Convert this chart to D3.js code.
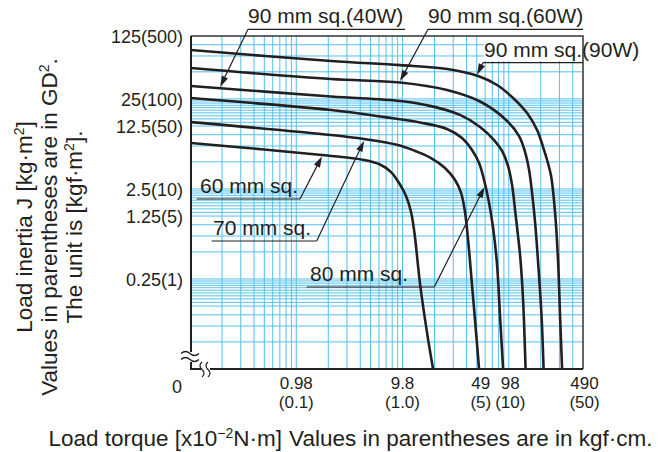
<!DOCTYPE html>
<html><head><meta charset="utf-8">
<script src="https://cdn.jsdelivr.net/npm/d3@7"></script>
<style>
html,body{margin:0;padding:0;background:#fff;}
svg{display:block;font-family:"Liberation Sans",Arial,Helvetica,sans-serif;}
</style></head><body>
<svg id="chart" width="662" height="452"></svg>
<script>
// ---------- data (torque in x10^-2 N·m, inertia J in kg·m²) ----------
const seriesNames = ["90 mm sq.(90W)", "90 mm sq.(60W)", "90 mm sq.(40W)", "80 mm sq.", "70 mm sq.", "60 mm sq."];
const torque90W  = [0.1, 2.08, 9.29, 25.7, 50.4, 76.1, 107.6, 145.8, 181.1, 206.3, 225, 245.4, 267.7, 285.7, 298.3, 311.4];
const inertia90W = [87.4, 65.9, 59.4, 53.8, 44.9, 35.7, 25.6, 17.4, 11.3, 7.30, 5.24, 3.48, 1.35, 0.385, 0.0944, 0.025];
const torque60W  = [0.1, 2.08, 9.29, 25.7, 52.6, 92.5, 122.6, 139.6, 152.3, 162.5, 173.4, 185.1, 199.7, 208.5];
const inertia60W = [55.1, 41.6, 38.0, 31.4, 23.4, 14.6, 9.68, 6.43, 4.06, 2.25, 1.07, 0.385, 0.0944, 0.025];
const torque40W  = [0.1, 2.08, 9.29, 18.2, 34.1, 52.6, 71.3, 84.8, 96.6, 105.3, 112.4, 118.7, 125.3, 133.7, 141.1];
const inertia40W = [34.8, 26.6, 23.7, 20.8, 16.6, 12.2, 8.74, 6.60, 4.49, 2.76, 1.46, 0.830, 0.461, 0.146, 0.025];
const torque80   = [0.1, 2.08, 6.71, 14.3, 25.7, 35.6, 44.2, 51.5, 57.4, 64.0, 69.8, 76.1, 81.2, 86.7];
const inertia80  = [25.6, 18.8, 15.7, 13.7, 11.6, 9.20, 6.76, 4.85, 3.14, 1.74, 0.920, 0.357, 0.0944, 0.025];
const torque70   = [0.1, 2.08, 4.26, 8.89, 12.9, 18.2, 24.6, 30.6, 34.9, 38.0, 40.6, 44.2, 48.3, 51.5];
const inertia70  = [13.8, 9.93, 8.96, 7.69, 6.60, 5.51, 4.27, 3.14, 2.25, 1.38, 0.677, 0.214, 0.0626, 0.025];
const torque60   = [0.1, 1.71, 4.26, 6.02, 7.64, 9.09, 10.6, 11.8, 12.7, 14.3, 16.7, 19.0];
const inertia60  = [8.10, 5.95, 5.24, 4.67, 3.85, 2.91, 2.08, 1.38, 0.810, 0.225, 0.0626, 0.025];

const xTickValues    = [0.98, 9.8, 49, 98, 490];
const xTickLabels    = ["0.98", "9.8", "49", "98", "490"];
const xTickSubLabels = ["(0.1)", "(1.0)", "(5)", "(10)", "(50)"];
const yTickValues    = [125, 25, 12.5, 2.5, 1.25, 0.25];
const yTickLabels    = ["125(500)", "25(100)", "12.5(50)", "2.5(10)", "1.25(5)", "0.25(1)"];

const xGridDecades = [0.098, 0.98, 9.8, 98];
const yGridDecades = [0.025, 0.25, 2.5, 25];
const yGridMultiples = [2, 3, 4, 5, 5.5, 6, 6.5, 7, 7.5, 8, 8.5, 9, 9.5, 10];

const labelTexts   = ["90 mm sq.(40W)", "90 mm sq.(60W)", "90 mm sq.(90W)", "60 mm sq.", "70 mm sq.", "80 mm sq."];
const arrowTorque  = [0.188, 9.29, 49.3, 1.71, 4.26, 58];
const arrowInertia = [34, 39.5, 46.5, 5.75, 8.6, 2.63];

// ---------- layout ----------
const ink = "#231f20", gridColor = "#55c0ea";
const plot = {left: 191, right: 583, top: 36, bottom: 369};
const svg = d3.select("#chart");
const x = d3.scaleLog().domain([0.1, 490]).range([plot.left, plot.right]);
const y = d3.scaleLog().domain([0.025, 125]).range([plot.bottom, plot.top]);

// grid
const xGrid = [];
xGridDecades.forEach(d => { for (let k = 2; k <= 10; k++) { const v = d * k; if (v > 0.1 && v < 489) xGrid.push(v); } });
const yGrid = [];
yGridDecades.forEach(d => yGridMultiples.forEach(m => { const v = d * m; if (v > 0.0251 && v < 124.9) yGrid.push(v); }));

const gGrid = svg.append("g").attr("stroke", gridColor).attr("stroke-width", 1);
gGrid.selectAll("line.v").data(xGrid).join("line").attr("class", "v")
  .attr("x1", d => x(d)).attr("x2", d => x(d)).attr("y1", plot.top).attr("y2", plot.bottom);
gGrid.selectAll("line.h").data(yGrid).join("line").attr("class", "h")
  .attr("x1", plot.left).attr("x2", plot.right).attr("y1", d => y(d)).attr("y2", d => y(d));

// white box behind 90W label inside plot
svg.append("rect").attr("x", 484).attr("y", plot.top + 1).attr("width", plot.right - 485).attr("height", 24).attr("fill", "#fff");

// frame
svg.append("path").attr("d", `M${plot.left},${plot.top}H${plot.right}V${plot.bottom}`)
  .attr("fill", "none").attr("stroke", "#333").attr("stroke-width", 1.5);
// axes with breaks
svg.append("path").attr("d", `M${plot.left},${plot.top}V352 M${plot.left},362V${plot.bottom}H201 M210,${plot.bottom}H${plot.right}`)
  .attr("fill", "none").attr("stroke", ink).attr("stroke-width", 2);
const brk = svg.append("g").attr("fill", "none").attr("stroke", ink).attr("stroke-width", 1.2);
[353.5, 359.5].forEach(yy => brk.append("path").attr("d", `M181,${yy} q4.5,-4 9,0 t9,0`));
[202, 208].forEach(xx => brk.append("path").attr("d", `M${xx},362 q-4,3.75 0,7.5 t0,7.5`));

// curves
const series = [
  [torque90W, inertia90W], [torque60W, inertia60W], [torque40W, inertia40W],
  [torque80, inertia80], [torque70, inertia70], [torque60, inertia60]
];
const line = d3.line().x(d => x(d[0])).y(d => y(d[1])).curve(d3.curveCatmullRom.alpha(0.5));
svg.append("g").selectAll("path").data(series).join("path")
  .attr("d", s => line(s[0].map((t, i) => [t, s[1][i]])))
  .attr("fill", "none").attr("stroke", ink).attr("stroke-width", 2.6);

// tick labels
const gy = svg.append("g").attr("font-size", 18).attr("fill", ink).attr("text-anchor", "end");
gy.selectAll("text").data(yTickValues).join("text")
  .attr("x", 183).attr("y", d => y(d) + 7).text((d, i) => yTickLabels[i]);
gy.append("text").attr("x", 182).attr("y", 393).text("0");

const xNudge = [0, 0, 4, 1.5, 1.5];
const gx = svg.append("g").attr("font-size", 17).attr("fill", ink).attr("text-anchor", "middle");
gx.selectAll("text.a").data(xTickValues).join("text").attr("class", "a")
  .attr("x", (d, i) => x(d) + xNudge[i]).attr("y", 388.5).text((d, i) => xTickLabels[i]);
gx.selectAll("text.b").data(xTickValues).join("text").attr("class", "b")
  .attr("x", (d, i) => x(d) + xNudge[i]).attr("y", 407.5).text((d, i) => xTickSubLabels[i]);

// axis titles
const xt = svg.append("text").attr("x", 350.5).attr("y", 446).attr("font-size", 22.5).attr("fill", ink).attr("text-anchor", "middle");
xt.append("tspan").text("Load torque [x10");
xt.append("tspan").attr("font-size", 14).attr("dy", -8).text("\u22122");
xt.append("tspan").attr("dy", 8).text("N·m]");
xt.append("tspan").attr("dx", 7).text("Values in parentheses are in kgf·cm.");

const yTitle = [["Load inertia J [kg·m", "2", "]"], ["Values in parentheses are in GD", "2", "."], ["The unit is [kgf·m", "2", "]."]];
const yTitleBase = [31.5, 56.5, 81.5];
yTitle.forEach((parts, i) => {
  const t = svg.append("text").attr("transform", `translate(${yTitleBase[i]},227) rotate(-90)`)
    .attr("font-size", 22.5).attr("fill", ink).attr("text-anchor", "middle");
  t.append("tspan").text(parts[0]);
  t.append("tspan").attr("font-size", 14).attr("dy", -8).text(parts[1]);
  t.append("tspan").attr("dy", 8).text(parts[2]);
});

// series labels with leader lines and arrows
const labelLayout = [
  {tx: 248, ty: 23.3, ux1: 248, ux2: 405, from: "left"},
  {tx: 428, ty: 23.3, ux1: 428, ux2: 583, from: "left"},
  {tx: 484, ty: 56.7, ux1: 483, ux2: 583, from: "left"},
  {tx: 200, ty: 193, ux1: 196.7, ux2: 300, from: "right"},
  {tx: 213, ty: 235, ux1: 211.7, ux2: 316.7, from: "right"},
  {tx: 310, ty: 281, ux1: 306.7, ux2: 434.3, from: "right"}
];
const gl = svg.append("g");
labelTexts.forEach((txt, i) => {
  const L = labelLayout[i];
  const uy = L.ty + 6;
  gl.append("text").attr("x", L.tx).attr("y", L.ty).attr("font-size", 21).attr("fill", ink).text(txt);
  gl.append("line").attr("x1", L.ux1).attr("x2", L.ux2).attr("y1", uy).attr("y2", uy)
    .attr("stroke", ink).attr("stroke-width", 1.2);
  const x0 = L.from === "left" ? L.ux1 : L.ux2, y0 = uy;
  const x1 = x(arrowTorque[i]), y1 = y(arrowInertia[i]);
  const dx = x1 - x0, dy = y1 - y0, len = Math.hypot(dx, dy), ux = dx / len, uyv = dy / len;
  const al = 11, aw = 3.4;
  const bx = x1 - ux * al, by = y1 - uyv * al;
  gl.append("line").attr("x1", x0).attr("y1", y0).attr("x2", bx + ux * 2).attr("y2", by + uyv * 2)
    .attr("stroke", ink).attr("stroke-width", 1.2);
  gl.append("path").attr("d", `M${x1},${y1}L${bx - uyv * aw},${by + ux * aw}L${bx + uyv * aw},${by - ux * aw}Z`)
    .attr("fill", ink);
});
</script>
</body></html>
